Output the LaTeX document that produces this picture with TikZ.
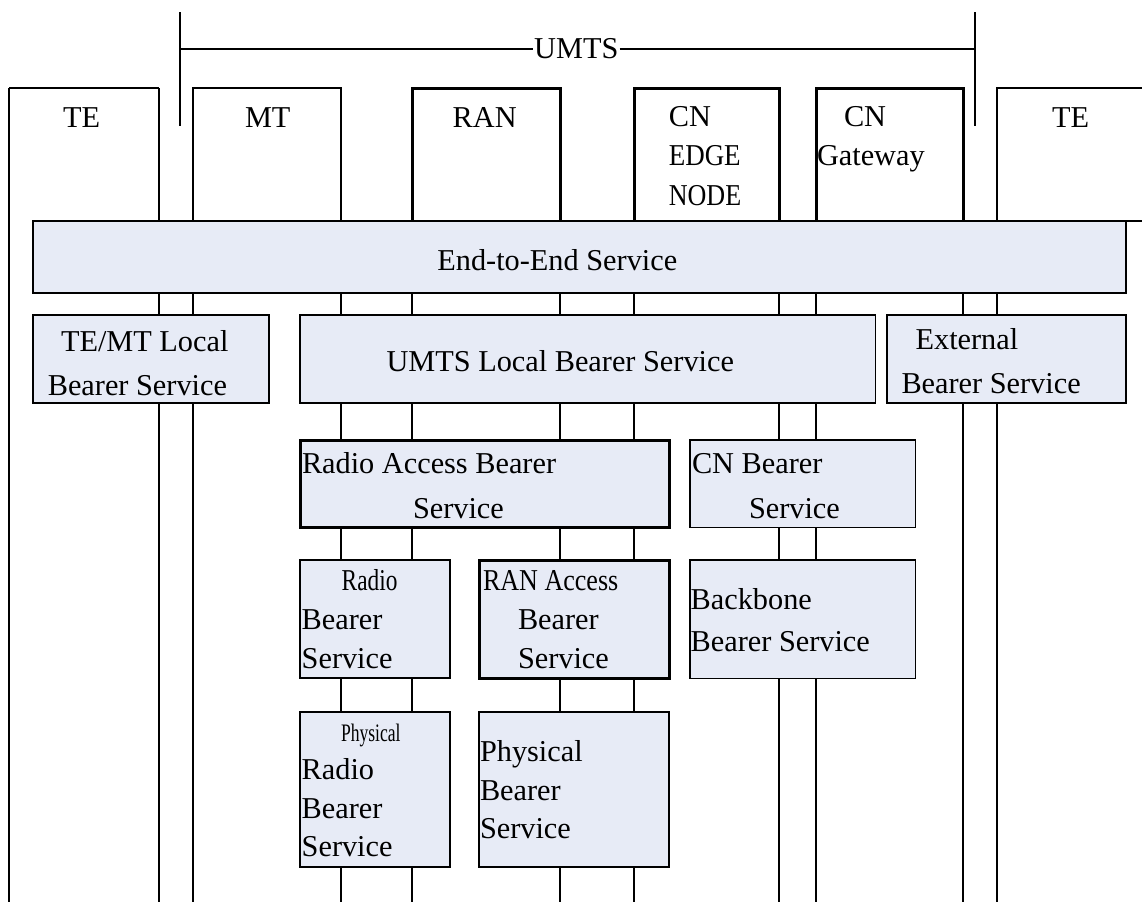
\documentclass[tikz,border=0pt]{standalone}
\usepackage{graphicx}
\usepackage{fontspec}
\setmainfont{Liberation Serif}
\definecolor{boxfill}{RGB}{231,235,246}
\tikzset{
  bigfont/.style={font=\fontsize{30.3}{36}\selectfont},
  frame/.style={draw, line width=1.8pt, inner sep=0pt, outer sep=0pt, anchor=north west},
  heavyframe/.style={frame, line width=3pt},
  openframe/.style={inner sep=0pt, outer sep=0pt, anchor=north west},
  svc/.style={frame, fill=boxfill},
  heavysvc/.style={heavyframe, fill=boxfill},
  life/.style={line width=1.8pt},
  lbl/.style={bigfont, anchor=base west, inner sep=0pt, outer sep=0pt},
  dims/.style 2 args={minimum width=#1pt, minimum height=#2pt},
}
\begin{document}
\begin{tikzpicture}[x=1pt, y=-1pt]
\useasboundingbox (0,0) rectangle (1142,902);
\coordinate (bottom) at (0,902);

% ---- network elements along the top ----
\node[openframe, dims={150}{133}] (te1) at (9,88) {};
\node[frame, dims={148}{133}] (mt) at (193,88) {};
\node[heavyframe, dims={148}{133}] (ran) at (412,88) {};
\node[heavyframe, dims={145}{133}] (cnedge) at (634,88) {};
\node[heavyframe, dims={147}{133}] (cngw) at (816,88) {};
\node[frame, dims={170}{133}] (te2) at (997,88) {};
\draw[life] (te1.north west) -- (te1.north east);

% ---- element lifelines ----
\foreach \n in {te1, mt, ran, cnedge, cngw}{
  \draw[life] (\n.north west) -- (\n.north west |- bottom);
  \draw[life] (\n.north east) -- (\n.north east |- bottom);
}
\draw[life] (te2.north west) -- (te2.north west |- bottom);

% ---- UMTS span ----
\coordinate (uLtop) at (180,12);
\coordinate (uLbot) at (180,126);
\coordinate (uRtop) at (975,12);
\coordinate (uRbot) at (975,126);
\coordinate (uL) at (180,49);
\coordinate (uR) at (975,49);
\node[bigfont, inner ysep=0pt, inner xsep=1pt, anchor=west] (umts) at (533,49) {UMTS};
\draw[life] (uLtop) -- (uLbot);
\draw[life] (uRtop) -- (uRbot);
\draw[life] (uL) -- (umts.west |- uL);
\draw[life] (umts.east |- uR) -- (uR);

% ---- element names ----
\node[lbl] (tTE1) at (63,127.7) {TE};
\node[lbl] (tMT) at (245,127.7) {MT};
\node[lbl] (tRAN) at (452.7,127.7) {RAN};
\node[lbl] (tCN1) at (668.8,126) {CN};
\node[lbl] (tEDGE) at (668.8,165) {\scalebox{0.89}[1]{EDGE}};
\node[lbl] (tNODE) at (668.8,205) {\scalebox{0.86}[1]{NODE}};
\node[lbl] (tCN2) at (844,126) {CN};
\node[lbl] (tGW) at (817,165) {Gateway};
\node[lbl] (tTE2) at (1052,127.7) {TE};

% ---- bearer services ----
\node[svc, dims={1093}{72}] (e2e) at (33,221) {};
\node[svc, dims={236}{88}] (temt) at (33,315) {};
\node[svc, dims={575.5}{88}] (umtsl) at (300,315) {};
\node[svc, dims={239}{88}] (ext) at (887,315) {};
\node[heavysvc, dims={369}{87.5}] (rab) at (300,440) {};
\node[svc, dims={225.5}{87.5}] (cnb) at (690,440) {};
\node[svc, dims={150}{118}] (rb) at (300,560) {};
\node[heavysvc, dims={190}{118}] (rana) at (479,560) {};
\node[svc, dims={225.5}{118.5}] (bb) at (690,560) {};
\node[svc, dims={150}{155}] (prb) at (300,712) {};
\node[svc, dims={190}{155}] (pb) at (479,712) {};

% ---- service names ----
\node[lbl] at (437.4,270) {End-to-End Service};
\node[lbl] at (61,351.7) {TE/MT Local};
\node[lbl] at (47.8,395) {Bearer Service};
\node[lbl] at (386.5,371.7) {UMTS Local Bearer Service};
\node[lbl] at (915.6,349) {External};
\node[lbl] at (901.5,393) {Bearer Service};
\node[lbl] at (302,473) {Radio Access Bearer};
\node[lbl] at (413,518) {Service};
\node[lbl] at (692,473) {CN Bearer};
\node[lbl] at (749,518) {Service};
\node[lbl] at (341.7,590) {\scalebox{0.77}[1]{Radio}};
\node[lbl] at (301.7,629.3) {Bearer};
\node[lbl] at (301.7,668) {Service};
\node[lbl] at (483,590) {\scalebox{0.86}[1]{RAN Access}};
\node[lbl] at (518,629.3) {Bearer};
\node[lbl] at (518,668) {Service};
\node[lbl] at (690.7,609.3) {Backbone};
\node[lbl] at (690.7,651.7) {Bearer Service};
\node[lbl] at (341,741.7) {\scalebox{0.58}[0.83]{Physical}};
\node[lbl] at (301.7,779.3) {Radio};
\node[lbl] at (301.7,818.3) {Bearer};
\node[lbl] at (301.7,856) {Service};
\node[lbl] at (480,761.7) {Physical};
\node[lbl] at (480,800) {Bearer};
\node[lbl] at (480,838.3) {Service};
\end{tikzpicture}
\end{document}
